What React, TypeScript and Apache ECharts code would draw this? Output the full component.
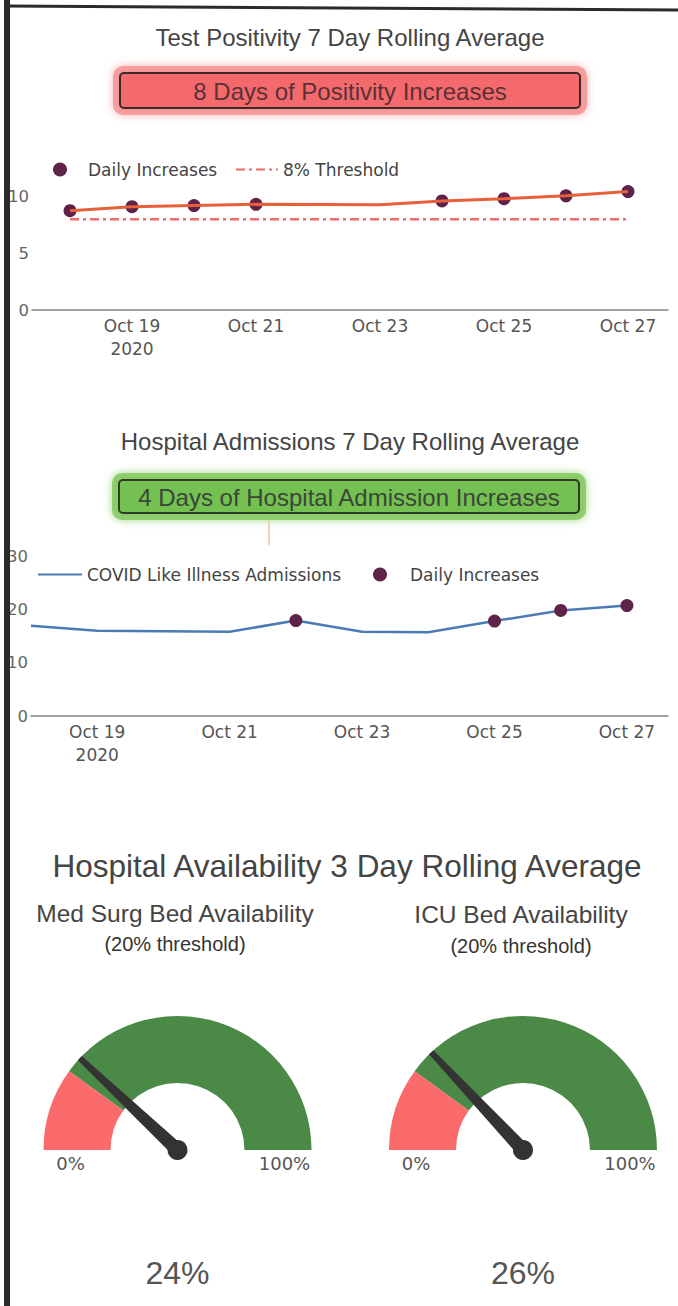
import React, { useEffect, useRef } from "react";
import * as echarts from "echarts";

// ---- data ----
const dates = [
  "2020-10-18", "2020-10-19", "2020-10-20", "2020-10-21", "2020-10-22",
  "2020-10-23", "2020-10-24", "2020-10-25", "2020-10-26", "2020-10-27",
];
const positivity = [8.76, 9.12, 9.22, 9.32, 9.3, 9.28, 9.62, 9.82, 10.08, 10.45];
const positivityThreshold = [8, 8, 8, 8, 8, 8, 8, 8, 8, 8];
const positivityIncreaseDates = [
  "2020-10-18", "2020-10-19", "2020-10-20", "2020-10-21",
  "2020-10-24", "2020-10-25", "2020-10-26", "2020-10-27",
];
const admissions = [16.9, 16.0, 15.9, 15.8, 17.9, 15.8, 15.7, 17.8, 19.8, 20.7];
const admissionIncreaseDates = ["2020-10-22", "2020-10-25", "2020-10-26", "2020-10-27"];
const xTickDates = ["2020-10-19", "2020-10-21", "2020-10-23", "2020-10-25", "2020-10-27"];
const xTickLabels = ["Oct 19\n2020", "Oct 21", "Oct 23", "Oct 25", "Oct 27"];
const positivityYTicks = [0, 5, 10];
const gaugeNames = ["Med Surg Bed Availability", "ICU Bed Availability"];
const gaugeValues = [24, 26];
const gaugeThreshold = 20;

const DAY = 86400000;
// day number (days since epoch, UTC) used as the x value
const dayNum = (s: string) => Math.round(new Date(s + "T00:00:00Z").getTime() / DAY);

const TITLE_FONT = "Liberation Sans, Arial, sans-serif";
const TICK_FONT = "DejaVu Sans, Verdana, sans-serif";
const MARKER = "#5f2349";

function labelFor(v: number) {
  const i = xTickDates.map(dayNum).findIndex((t) => Math.abs(t - v) < 0.5);
  return i >= 0 ? xTickLabels[i] : "";
}

export default function App() {
  const ref = useRef<HTMLDivElement>(null);
  useEffect(() => {
    if (!ref.current) return;
    const chart = echarts.init(ref.current, null, { renderer: "svg" });

    const xAxisCommon = {
      type: "value",
      axisLine: { show: true, onZero: false, lineStyle: { color: "#858585", width: 1.5 } },
      axisTick: { show: false },
      splitLine: { show: false },
      axisLabel: {
        customValues: xTickDates.map(dayNum),
        formatter: (v: number) => labelFor(v),
        color: "#555",
        fontSize: 17,
        fontFamily: TICK_FONT,
        lineHeight: 23,
        margin: 4,
        hideOverlap: false,
      },
    };
    const yLabel = { color: "#666", fontSize: 16.5, fontFamily: TICK_FONT, margin: 3 };

    const gauge = (i: number, cx: number) => ({
      type: "gauge",
      name: gaugeNames[i],
      center: [cx, 1150],
      radius: 134,
      startAngle: 180,
      endAngle: 0,
      min: 0,
      max: 100,
      axisLine: {
        lineStyle: {
          width: 67,
          color: [
            [gaugeThreshold / 100, "#fb6b6b"],
            [1, "#4b8a46"],
          ],
        },
      },
      splitLine: { show: false },
      axisTick: { show: false },
      axisLabel: { show: false },
      pointer: {
        icon: "path://M3.5,0 L8.5,0 L12,100 L0,100 Z",
        length: 134,
        width: 14,
        offsetCenter: [0, 0],
        itemStyle: { color: "#333" },
      },
      anchor: { show: true, size: 20, showAbove: true, itemStyle: { color: "#333" } },
      title: { show: false },
      detail: {
        offsetCenter: [0, 123],
        formatter: "{value}%",
        fontSize: 32,
        fontWeight: "normal",
        color: "#555",
        fontFamily: TITLE_FONT,
      },
      data: [{ value: gaugeValues[i], name: gaugeNames[i] }],
    });

    const txt = (text: string, x: number, y: number, fontSize: number, fill: string, family = TITLE_FONT) => ({
      type: "text",
      x,
      y,
      z: 50,
      style: { text, fontSize, fontFamily: family, fill, align: "center", verticalAlign: "middle" },
    });

    const legendText = { fontSize: 17, color: "#444", fontFamily: TICK_FONT };
    const legendItem = (name: string, left: number, top: number, itemWidth: number, circle: boolean) => ({
      data: [
        circle
          ? { name, icon: "circle" }
          : { name, itemStyle: { opacity: 0, color: "rgba(0,0,0,0)", borderWidth: 0 } },
      ],
      left,
      top,
      padding: 0,
      itemWidth,
      itemHeight: 14,
      selectedMode: false,
      textStyle: legendText,
    });

    const d0 = dayNum(dates[0]);
    const d1 = dayNum(dates[dates.length - 1]);

    chart.setOption({
      animation: false,
      backgroundColor: "#fff",
      grid: [
        { left: 32, right: 10, top: 174, height: 136 },
        { left: 31, right: 10, top: 556, height: 160 },
      ],
      xAxis: [
        { ...xAxisCommon, gridIndex: 0, min: d0 - 0.613, max: d1 + 0.645 },
        { ...xAxisCommon, gridIndex: 1, min: d0, max: d1 + 0.62 },
      ],
      yAxis: [
        {
          type: "value",
          gridIndex: 0,
          min: 0,
          max: 12,
          axisLine: { show: false },
          axisTick: { show: false },
          splitLine: { show: false },
          axisLabel: { ...yLabel, customValues: positivityYTicks },
        },
        {
          type: "value",
          gridIndex: 1,
          min: 0,
          max: 30,
          interval: 10,
          axisLine: { show: false },
          axisTick: { show: false },
          splitLine: { show: false },
          axisLabel: { ...yLabel },
        },
      ],
      legend: [
        legendItem("Daily Increases", 53, 161, 46, true),
        legendItem("8% Threshold", 235, 161, 42, false),
        legendItem("COVID Like Illness Admissions", 37, 566, 44, false),
        legendItem("Daily Increases", 373, 566, 50, true),
      ],
      series: [
        {
          type: "line",
          name: "Test Positivity",
          xAxisIndex: 0,
          yAxisIndex: 0,
          data: dates.map((d, i) => [dayNum(d), positivity[i]]),
          symbol: "none",
          lineStyle: { color: "#e6603a", width: 3 },
          itemStyle: { color: "#e6603a" },
          z: 4,
        },
        {
          type: "scatter",
          name: "Daily Increases",
          xAxisIndex: 0,
          yAxisIndex: 0,
          data: positivityIncreaseDates.map((d) => [dayNum(d), positivity[dates.indexOf(d)]]),
          symbolSize: 13,
          itemStyle: { color: MARKER, opacity: 1 },
          z: 3,
        },
        {
          type: "line",
          name: "8% Threshold",
          xAxisIndex: 0,
          yAxisIndex: 0,
          data: dates.map((d, i) => [dayNum(d), positivityThreshold[i]]),
          symbol: "none",
          lineStyle: { color: "#f26b6b", width: 2.5, type: [9, 4, 3, 4] },
          itemStyle: { color: "#f26b6b" },
          z: 2,
        },
        {
          type: "line",
          name: "COVID Like Illness Admissions",
          xAxisIndex: 1,
          yAxisIndex: 1,
          data: dates.map((d, i) => [dayNum(d), admissions[i]]),
          symbol: "none",
          lineStyle: { color: "#4b7bb5", width: 2.5 },
          itemStyle: { color: "#4b7bb5" },
          z: 2,
        },
        {
          type: "scatter",
          name: "Daily Increases",
          xAxisIndex: 1,
          yAxisIndex: 1,
          data: admissionIncreaseDates.map((d) => [dayNum(d), admissions[dates.indexOf(d)]]),
          symbolSize: 13,
          itemStyle: { color: MARKER, opacity: 1 },
          z: 3,
        },
        gauge(0, 177.5),
        gauge(1, 523),
      ],
      graphic: [
        { type: "rect", z: 100, shape: { x: 4, y: 0, width: 6, height: 1306 }, style: { fill: "#2b2b2b" } },
        { type: "line", z: 100, shape: { x1: 4, y1: 6, x2: 678, y2: 10 }, style: { stroke: "#2b2b2b", lineWidth: 3 } },
        txt("Test Positivity 7 Day Rolling Average", 350, 37, 24, "#444"),
        {
          type: "rect",
          z: 39,
          shape: { x: 113, y: 66, width: 474, height: 49, r: 10 },
          style: { fill: "rgba(246,140,140,0.75)", shadowBlur: 8, shadowColor: "rgba(246,140,140,0.9)" },
        },
        {
          type: "rect",
          z: 40,
          shape: { x: 120, y: 73, width: 460, height: 35, r: 4 },
          style: { fill: "#f46a6c", stroke: "#3a2a2a", lineWidth: 2 },
        },
        txt("8 Days of Positivity Increases", 350, 91, 24, "#5a3039"),
        txt("Hospital Admissions 7 Day Rolling Average", 350, 441, 24, "#444"),
        {
          type: "rect",
          z: 39,
          shape: { x: 112, y: 473, width: 474, height: 47, r: 10 },
          style: { fill: "rgba(128,200,90,0.8)", shadowBlur: 8, shadowColor: "rgba(128,200,90,0.9)" },
        },
        {
          type: "rect",
          z: 40,
          shape: { x: 119, y: 480, width: 460, height: 33, r: 4 },
          style: { fill: "#74c050", stroke: "#2f3a2a", lineWidth: 2 },
        },
        txt("4 Days of Hospital Admission Increases", 349, 497, 24, "#3a463a"),
        { type: "line", z: 40, shape: { x1: 269, y1: 520, x2: 269, y2: 545 }, style: { stroke: "#e6c79c", lineWidth: 1.5 } },
        txt("Hospital Availability 3 Day Rolling Average", 347, 866, 31.5, "#444"),
        txt(gaugeNames[0], 175, 913, 24.5, "#444"),
        txt("(" + gaugeThreshold + "% threshold)", 175, 944, 20, "#333"),
        txt(gaugeNames[1], 521, 914, 24.5, "#444"),
        txt("(" + gaugeThreshold + "% threshold)", 521, 946, 20, "#333"),
        txt("0%", 177.5 - 107, 1163, 18, "#555", TICK_FONT),
        txt("100%", 177.5 + 107, 1163, 18, "#555", TICK_FONT),
        txt("0%", 523 - 107, 1163, 18, "#555", TICK_FONT),
        txt("100%", 523 + 107, 1163, 18, "#555", TICK_FONT),
      ],
    });
    return () => chart.dispose();
  }, []);
  return (
    <div
      ref={ref}
      style={{ position: "absolute", left: 0, top: 0, width: 678, height: 1306, background: "#fff" }}
    />
  );
}
